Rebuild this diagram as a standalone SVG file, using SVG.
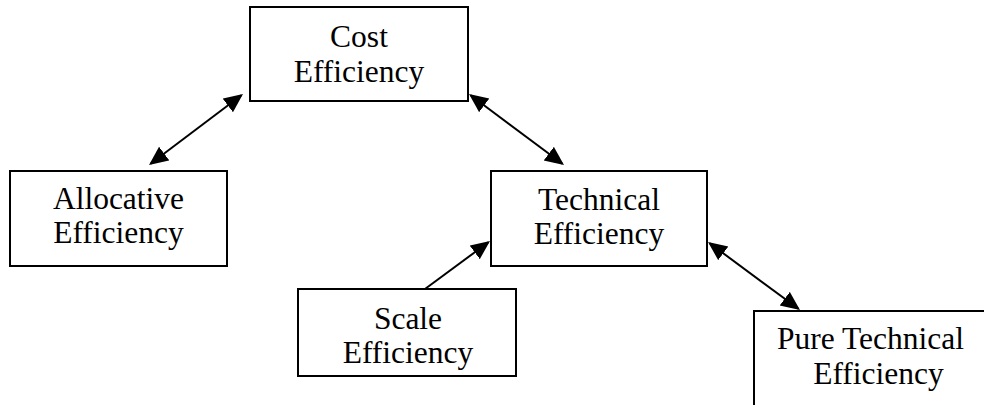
<svg xmlns="http://www.w3.org/2000/svg" width="984" height="405" viewBox="0 0 984 405">
  <style>
    .box { fill: #ffffff; stroke: #000000; stroke-width: 2; }
    .lbl { font-family: "Liberation Serif", "Times New Roman", serif; font-size: 31.5px; fill: #000000; text-anchor: middle; }
    .link { stroke: #000000; stroke-width: 2; fill: none; }
  </style>
  <defs>
    <marker id="head" markerUnits="userSpaceOnUse" markerWidth="20" markerHeight="18" refX="17" refY="8.5" orient="auto-start-reverse">
      <path d="M0,0 L19,8.5 L0,17 Z" fill="#000000"/>
    </marker>
  </defs>
  <rect width="984" height="405" fill="#ffffff"/>

  <g id="connectors">
    <line class="link" x1="150.6" y1="163.8" x2="241.4" y2="95.2" marker-start="url(#head)" marker-end="url(#head)"/>
    <line class="link" x1="470.6" y1="95.2" x2="562.4" y2="163.8" marker-start="url(#head)" marker-end="url(#head)"/>
    <line class="link" x1="425" y1="289" x2="488.4" y2="242.2" marker-end="url(#head)"/>
    <line class="link" x1="709.6" y1="243.2" x2="798.4" y2="308.8" marker-start="url(#head)" marker-end="url(#head)"/>
  </g>

  <g id="cost">
    <rect class="box" x="250" y="7" width="218" height="94"/>
    <text class="lbl" x="359" y="47">Cost</text>
    <text class="lbl" x="359" y="82">Efficiency</text>
  </g>

  <g id="allocative">
    <rect class="box" x="10" y="171" width="217" height="95"/>
    <text class="lbl" x="118.5" y="209">Allocative</text>
    <text class="lbl" x="118.5" y="243">Efficiency</text>
  </g>

  <g id="technical">
    <rect class="box" x="491" y="171" width="216" height="95"/>
    <text class="lbl" x="599" y="210">Technical</text>
    <text class="lbl" x="599" y="244">Efficiency</text>
  </g>

  <g id="scale">
    <rect class="box" x="298" y="289" width="218" height="87"/>
    <text class="lbl" x="408" y="329">Scale</text>
    <text class="lbl" x="408" y="363">Efficiency</text>
  </g>

  <g id="pure-technical">
    <rect class="box" x="754" y="311" width="240" height="100"/>
    <text class="lbl" x="870.5" y="349">Pure Technical</text>
    <text class="lbl" x="878.5" y="384">Efficiency</text>
  </g>
</svg>
